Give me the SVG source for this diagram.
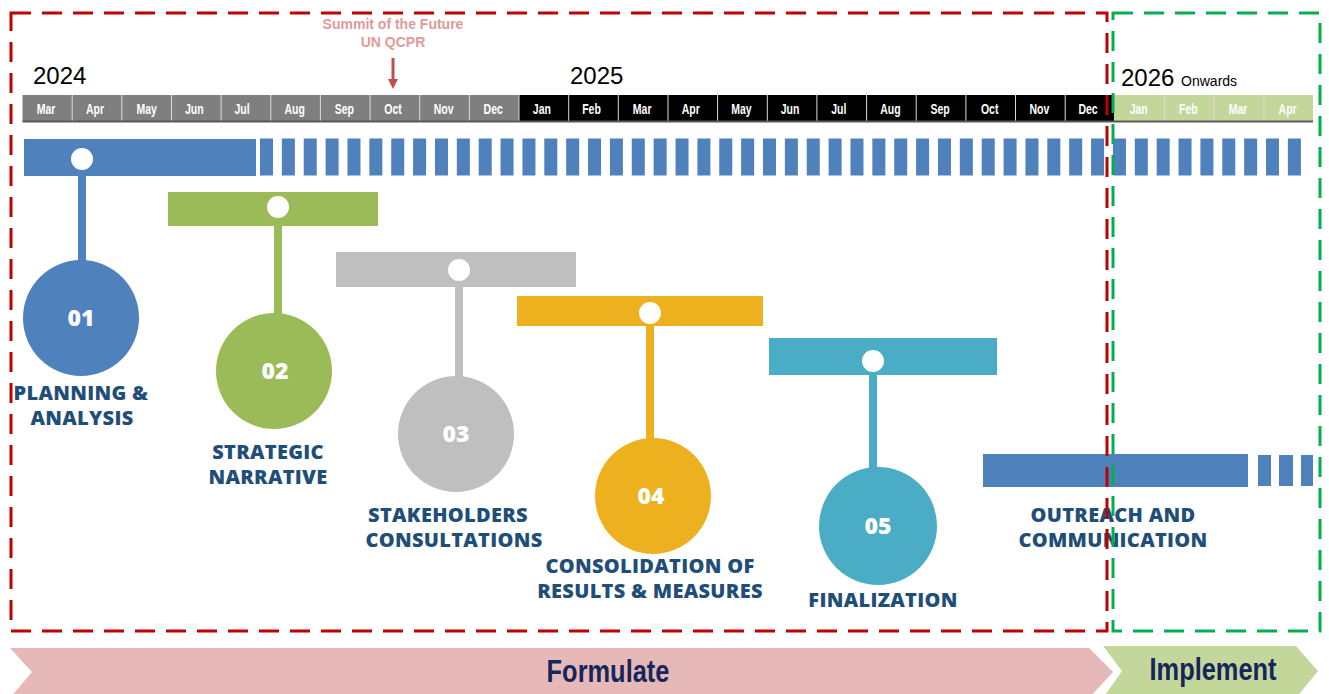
<svg xmlns="http://www.w3.org/2000/svg" width="1329" height="694" viewBox="0 0 1329 694">
<defs>
<style>
.mon{font-family:"Liberation Sans Narrow","Liberation Sans",sans-serif;font-size:15px;font-weight:700;fill:#fff;text-anchor:middle;}
.yr{font-family:"Liberation Sans",sans-serif;font-size:24px;fill:#000;}
.num{font-family:"Open Sans","Liberation Sans",sans-serif;font-weight:800;font-size:23px;fill:#fff;text-anchor:middle;}
.lbl{font-family:"Open Sans","Liberation Sans",sans-serif;font-weight:800;font-size:20px;letter-spacing:0.3px;fill:#1f4e79;text-anchor:middle;}
.dot{fill:#fff;}
.big{font-family:"Liberation Sans Narrow","Liberation Sans",sans-serif;font-weight:700;font-size:31px;fill:#17265a;text-anchor:middle;}
.sm{font-family:"Liberation Sans",sans-serif;font-weight:700;font-size:14px;fill:#e19a9a;text-anchor:middle;}
</style>
<marker id="arr" markerWidth="10" markerHeight="10" refX="5" refY="5" orient="auto" markerUnits="userSpaceOnUse"><path d="M0,0 L10,5 L0,10 z" fill="#c0504d"/></marker>
</defs>
<rect width="1329" height="694" fill="#fff"/>

<g id="phases">
<polygon points="10,648 1089,648 1113,672 1089,698 10,698 32,672" fill="#e6b8b7"/>
<text class="big" transform="translate(608,682) scale(0.82,1)">Formulate</text>
<polygon points="1103,646 1296,646 1318,671 1296,698 1103,698 1122,671" fill="#c4d79b"/>
<text class="big" transform="translate(1213,680) scale(0.82,1)">Implement</text>
</g>

<g id="timeline">
<rect x="22.5" y="95" width="496.5" height="26" fill="#7f7f7f"/>
<rect x="519" y="95" width="595" height="26" fill="#000"/>
<rect x="1114" y="95" width="199" height="26" fill="#c4d79b"/>
<g stroke="#d9d9d9" stroke-width="1">
<line x1="72.2" y1="95" x2="72.2" y2="121"/><line x1="121.8" y1="95" x2="121.8" y2="121"/><line x1="171.5" y1="95" x2="171.5" y2="121"/><line x1="221.1" y1="95" x2="221.1" y2="121"/><line x1="270.8" y1="95" x2="270.8" y2="121"/><line x1="320.4" y1="95" x2="320.4" y2="121"/><line x1="370.1" y1="95" x2="370.1" y2="121"/><line x1="419.7" y1="95" x2="419.7" y2="121"/><line x1="469.4" y1="95" x2="469.4" y2="121"/><line x1="519" y1="95" x2="519" y2="121"/><line x1="568.7" y1="95" x2="568.7" y2="121"/><line x1="618.3" y1="95" x2="618.3" y2="121"/><line x1="668" y1="95" x2="668" y2="121"/><line x1="717.6" y1="95" x2="717.6" y2="121"/><line x1="767.3" y1="95" x2="767.3" y2="121"/><line x1="816.9" y1="95" x2="816.9" y2="121"/><line x1="866.6" y1="95" x2="866.6" y2="121"/><line x1="916.2" y1="95" x2="916.2" y2="121"/><line x1="965.9" y1="95" x2="965.9" y2="121"/><line x1="1015.5" y1="95" x2="1015.5" y2="121"/><line x1="1065.2" y1="95" x2="1065.2" y2="121"/><line x1="1164.5" y1="95" x2="1164.5" y2="121"/><line x1="1214.1" y1="95" x2="1214.1" y2="121"/><line x1="1263.8" y1="95" x2="1263.8" y2="121"/>
</g>
<line x1="22.5" y1="121.5" x2="1313" y2="121.5" stroke="#595959" stroke-width="2"/>
<text class="mon" transform="translate(46,114) scale(0.7,1)">Mar</text><text class="mon" transform="translate(95,114) scale(0.7,1)">Apr</text><text class="mon" transform="translate(146.7,114) scale(0.7,1)">May</text><text class="mon" transform="translate(194.3,114) scale(0.7,1)">Jun</text><text class="mon" transform="translate(242,114) scale(0.7,1)">Jul</text><text class="mon" transform="translate(294.6,114) scale(0.7,1)">Aug</text><text class="mon" transform="translate(344.3,114) scale(0.7,1)">Sep</text><text class="mon" transform="translate(393,114) scale(0.7,1)">Oct</text><text class="mon" transform="translate(443.6,114) scale(0.7,1)">Nov</text><text class="mon" transform="translate(493.2,114) scale(0.7,1)">Dec</text>
<text class="mon" transform="translate(541.9,114) scale(0.7,1)">Jan</text><text class="mon" transform="translate(591.5,114) scale(0.7,1)">Feb</text><text class="mon" transform="translate(642.2,114) scale(0.7,1)">Mar</text><text class="mon" transform="translate(690.8,114) scale(0.7,1)">Apr</text><text class="mon" transform="translate(741.5,114) scale(0.7,1)">May</text><text class="mon" transform="translate(790.1,114) scale(0.7,1)">Jun</text><text class="mon" transform="translate(838.8,114) scale(0.7,1)">Jul</text><text class="mon" transform="translate(890.4,114) scale(0.7,1)">Aug</text><text class="mon" transform="translate(940.1,114) scale(0.7,1)">Sep</text><text class="mon" transform="translate(989.7,114) scale(0.7,1)">Oct</text><text class="mon" transform="translate(1039.4,114) scale(0.7,1)">Nov</text><text class="mon" transform="translate(1088,114) scale(0.7,1)">Dec</text>
<text class="mon" transform="translate(1138.7,114) scale(0.7,1)">Jan</text><text class="mon" transform="translate(1188.3,114) scale(0.7,1)">Feb</text><text class="mon" transform="translate(1238,114) scale(0.7,1)">Mar</text><text class="mon" transform="translate(1287.6,114) scale(0.7,1)">Apr</text>
<text class="yr" x="33" y="84">2024</text>
<text class="yr" x="570" y="84">2025</text>
<text class="yr" x="1121" y="86">2026 <tspan font-size="14">Onwards</tspan></text>
</g>

<g id="summit">
<text class="sm" x="393" y="29">Summit of the Future</text>
<text class="sm" x="393" y="47">UN QCPR</text>
</g>

<g id="connectors">
<line x1="393" y1="58" x2="393" y2="84" stroke="#c0504d" stroke-width="3" marker-end="url(#arr)"/>
<rect x="78" y="159" width="8" height="120" fill="#4f81bd"/>
<rect x="274" y="207" width="8" height="120" fill="#9bbb59"/>
<rect x="455" y="270" width="8" height="120" fill="#bfbfbf"/>
<rect x="646" y="313" width="8" height="140" fill="#edb120"/>
<rect x="869" y="361" width="8" height="130" fill="#4bacc6"/>
</g>

<g id="node-01">
<rect x="24" y="139" width="232" height="37" fill="#4f81bd"/>
<line x1="260" y1="157" x2="1302" y2="157" stroke="#4f81bd" stroke-width="37" stroke-dasharray="13 8.87"/>
<circle class="dot" cx="82" cy="159" r="11"/>
<circle cx="81" cy="318" r="58" fill="#4f81bd"/>
<text class="num" x="81" y="326">01</text>
<text class="lbl" x="81" y="400">PLANNING &amp;</text>
<text class="lbl" x="82" y="425">ANALYSIS</text>
</g>

<g id="node-02">
<rect x="168" y="192" width="210" height="34" fill="#9bbb59"/>
<circle class="dot" cx="278" cy="207" r="11"/>
<circle cx="274" cy="371" r="58" fill="#9bbb59"/>
<text class="num" x="275" y="379">02</text>
<text class="lbl" x="268" y="459">STRATEGIC</text>
<text class="lbl" x="268" y="484">NARRATIVE</text>
</g>

<g id="node-03">
<rect x="336" y="252" width="240" height="35" fill="#bfbfbf"/>
<circle class="dot" cx="459" cy="270" r="11"/>
<circle cx="456" cy="434" r="58" fill="#bfbfbf"/>
<text class="num" x="456" y="442">03</text>
<text class="lbl" x="448" y="522">STAKEHOLDERS</text>
<text class="lbl" x="454" y="547">CONSULTATIONS</text>
</g>

<g id="node-04">
<rect x="517" y="296" width="246" height="30" fill="#edb120"/>
<circle class="dot" cx="650" cy="313" r="11"/>
<circle cx="653" cy="496" r="58" fill="#edb120"/>
<text class="num" x="651" y="504">04</text>
<text class="lbl" x="650" y="573">CONSOLIDATION OF</text>
<text class="lbl" x="650" y="598">RESULTS &amp; MEASURES</text>
</g>

<g id="node-05">
<rect x="769" y="338" width="228" height="37" fill="#4bacc6"/>
<circle class="dot" cx="873" cy="361" r="11"/>
<circle cx="878" cy="526" r="59" fill="#4bacc6"/>
<text class="num" x="878" y="534">05</text>
<text class="lbl" x="883" y="607">FINALIZATION</text>
</g>

<g id="node-outreach">
<rect x="983" y="454" width="265" height="33" fill="#4f81bd"/>
<rect x="1258" y="455" width="13" height="31" fill="#4f81bd"/>
<rect x="1279" y="455" width="14" height="31" fill="#4f81bd"/>
<rect x="1301" y="455" width="12" height="31" fill="#4f81bd"/>
<text class="lbl" x="1113" y="522">OUTREACH AND</text>
<text class="lbl" x="1113" y="547">COMMUNICATION</text>
</g>

<g id="frames" fill="none" stroke-width="3" stroke-dasharray="20 11">
<rect x="11" y="13" width="1096" height="618" stroke="#c00000"/>
<rect x="1113" y="13" width="207" height="618" stroke="#00b050"/>
</g>
</svg>
